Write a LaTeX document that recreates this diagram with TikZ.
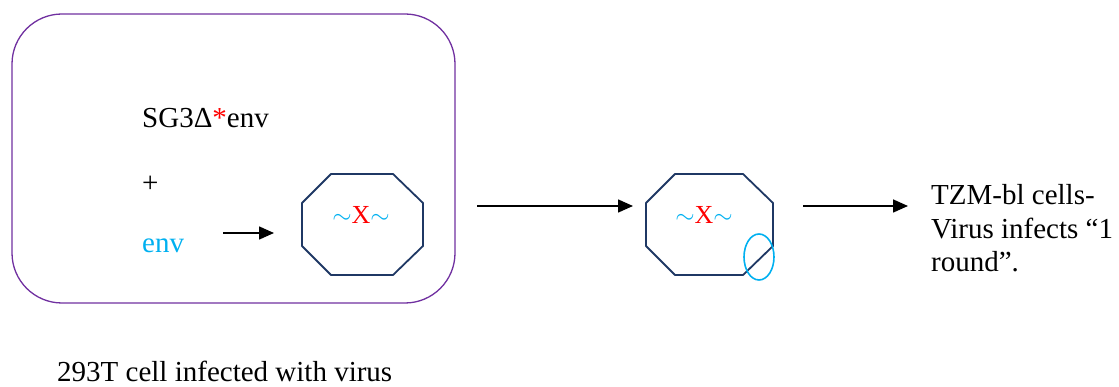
\documentclass[tikz,border=0pt]{standalone}
\usepackage{fontspec}
\setmainfont{Liberation Serif}
\usetikzlibrary{arrows.meta,shapes.geometric}
\definecolor{purp}{HTML}{7030A0}
\definecolor{navy}{HTML}{1F3864}
\definecolor{cyanb}{HTML}{00B0F0}
\definecolor{redx}{HTML}{FF0000}
\newcommand{\vtil}{\textcolor{cyanb}{$\sim$}}
\tikzset{
  lbl/.style={anchor=base west, inner sep=0pt, font=\fontsize{29}{33}\selectfont},
  arr/.style={line width=1.6pt, -{Triangle[length=15pt,width=13pt]}},
  oct/.style={draw=navy, line width=1.8pt, line join=round},
  vir/.style={inner sep=0pt, font=\fontsize{26}{30}\selectfont},
}
\begin{document}
\begin{tikzpicture}[x=1pt,y=-1pt]
\useasboundingbox (0,0) rectangle (1119,387);
% cell box
\draw[purp, line width=1.3pt, rounded corners=50pt] (12,14) rectangle (455,303);
\node[lbl] (sg) at (142,128) {SG3Δ\textcolor{redx}{*}env};
\node[lbl] (plus) at (142,193) {+};
\node[lbl, text=cyanb] (env) at (142,253) {env};
\coordinate (a1s) at (223,233);
% octagon 1
\draw[oct] (331,174) -- (393,174) -- (423,203) -- (423,246) -- (393,275) -- (331,275) -- (302,246) -- (302,203) -- cycle;
\node[vir] (v1) at (361,215) {\vtil\textcolor{redx}{X}\vtil};
\coordinate (a1e) at (274,233);
\draw[arr] (a1s) -- (a1e);
% arrow 2
\coordinate (a2s) at (477,206);
\coordinate (a2e) at (633,206);
\draw[arr] (a2s) -- (a2e);
% octagon 2
\draw[oct] (675,174) -- (743,174) -- (773,203) -- (773,246) -- (743,275) -- (675,275) -- (646,246) -- (646,203) -- cycle;
\node[vir] (v2) at (704,215) {\vtil\textcolor{redx}{X}\vtil};
\node[draw=cyanb, line width=1.6pt, ellipse, minimum width=30pt, minimum height=46pt, inner sep=0pt] (ell) at (759,257) {};
% arrow 3
\coordinate (a3s) at (803,206);
\coordinate (a3e) at (908,206);
\draw[arr] (a3s) -- (a3e);
\node[lbl] (t1) at (931,205) {TZM-bl cells-};
\node[lbl] (t2) at (931,239) {Virus infects “1};
\node[lbl] (t3) at (931,272) {round”.};
\node[lbl] (cap) at (57,381) {293T cell infected with virus};
\end{tikzpicture}
\end{document}
